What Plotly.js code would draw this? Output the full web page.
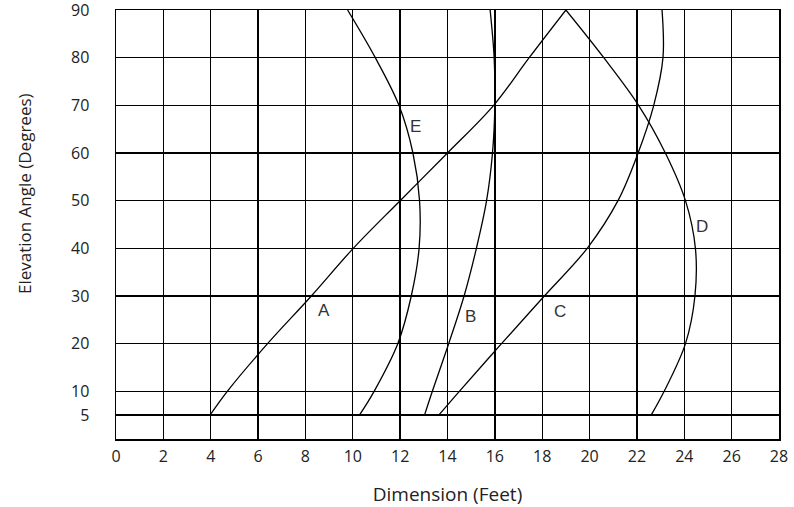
<!DOCTYPE html>
<html>
<head>
<meta charset="utf-8">
<script src="https://cdn.plot.ly/plotly-3.0.1.min.js"></script>
<style>html,body{margin:0;padding:0;background:#fff;}#chart{width:794px;height:507px;}</style>
</head>
<body>
<div id="chart"></div>
<script>
// Elevation angles (degrees) shared by all curves
const elev = [5, 10, 20, 30, 40, 50, 60, 70, 80, 90];
// Dimension (feet) for each curve at those elevations
const curveA = [3.97, 4.7, 6.4, 8.25, 10.02, 12.0, 14.0, 15.95, 17.45, 19.0];
const curveB = [13.03, 13.36, 14.05, 14.7, 15.22, 15.65, 15.9, 16.0, 15.97, 15.8];
const curveC = [13.63, 14.5, 16.28, 18.09, 19.9, 21.2, 22.05, 22.71, 23.1, 23.06];
const curveD = [22.6, 23.15, 24.05, 24.45, 24.47, 24.05, 23.2, 22.07, 20.6, 19.0];
const curveE = [10.28, 10.9, 11.9, 12.47, 12.8, 12.82, 12.54, 11.95, 10.95, 9.78];
const curveNames = ["A", "B", "C", "D", "E"];
// Label positions for each curve letter
const labelX = [8.8, 14.97, 18.74, 24.75, 12.65];
const labelY = [27, 25.6, 26.8, 44.6, 65.6];
const xTicks = [0, 2, 4, 6, 8, 10, 12, 14, 16, 18, 20, 22, 24, 26, 28];
const yTicks = [5, 10, 20, 30, 40, 50, 60, 70, 80, 90];
const xTitle = 'Dimension (Feet)';
const yTitle = 'Elevation Angle (Degrees)';

const series = [curveA, curveB, curveC, curveD, curveE];
const traces = series.map((xs, i) => ({
  type: 'scatter', mode: 'lines', name: curveNames[i],
  x: xs, y: elev,
  line: {color: '#000', width: 1.3, shape: 'spline', smoothing: 1},
  hoverinfo: 'skip'
}));

const annotations = curveNames.map((n, i) => ({
  x: labelX[i], y: labelY[i], xref: 'x', yref: 'y', text: n, showarrow: false,
  font: {family: 'Liberation Sans, Arial, sans-serif', size: 17, color: '#333'}
}));
// y-axis title (placed like the reference, slightly above the axis centre)
annotations.push({
  text: yTitle, xref: 'paper', yref: 'paper', x: 0, y: 0.571,
  xanchor: 'center', yanchor: 'middle', xshift: -92, textangle: -90,
  showarrow: false, font: {family: 'Open Sans, sans-serif', size: 17, color: '#222'}
});

const layout = {
  width: 794, height: 507,
  margin: {l: 116, r: 15, t: 10, b: 68},
  paper_bgcolor: '#fff', plot_bgcolor: '#fff',
  showlegend: false,
  font: {family: 'Open Sans, sans-serif', color: '#222'},
  xaxis: {
    range: [0, 28], tickvals: xTicks, ticktext: xTicks.map(String),
    showgrid: true, gridcolor: '#000', gridwidth: 1.4,
    showline: true, linecolor: '#000', linewidth: 1.5, mirror: true,
    zeroline: false, ticks: 'outside', ticklen: 2, tickcolor: 'rgba(0,0,0,0)',
    tickfont: {size: 16, color: '#222'}, automargin: false,
    title: {text: xTitle, font: {size: 19, color: '#222'}, standoff: 23}
  },
  yaxis: {
    range: [0, 90], tickvals: yTicks, ticktext: yTicks.map(String),
    showgrid: true, gridcolor: '#000', gridwidth: 1.4,
    showline: true, linecolor: '#000', linewidth: 1.5, mirror: true,
    zeroline: false, ticks: 'outside', ticklen: 22, tickcolor: 'rgba(0,0,0,0)',
    tickfont: {size: 16, color: '#222'}, automargin: false, ticklabeloverflow: 'allow'
  },
  annotations: annotations
};

Plotly.newPlot('chart', traces, layout, {displayModeBar: false, staticPlot: true});
</script>
</body>
</html>
